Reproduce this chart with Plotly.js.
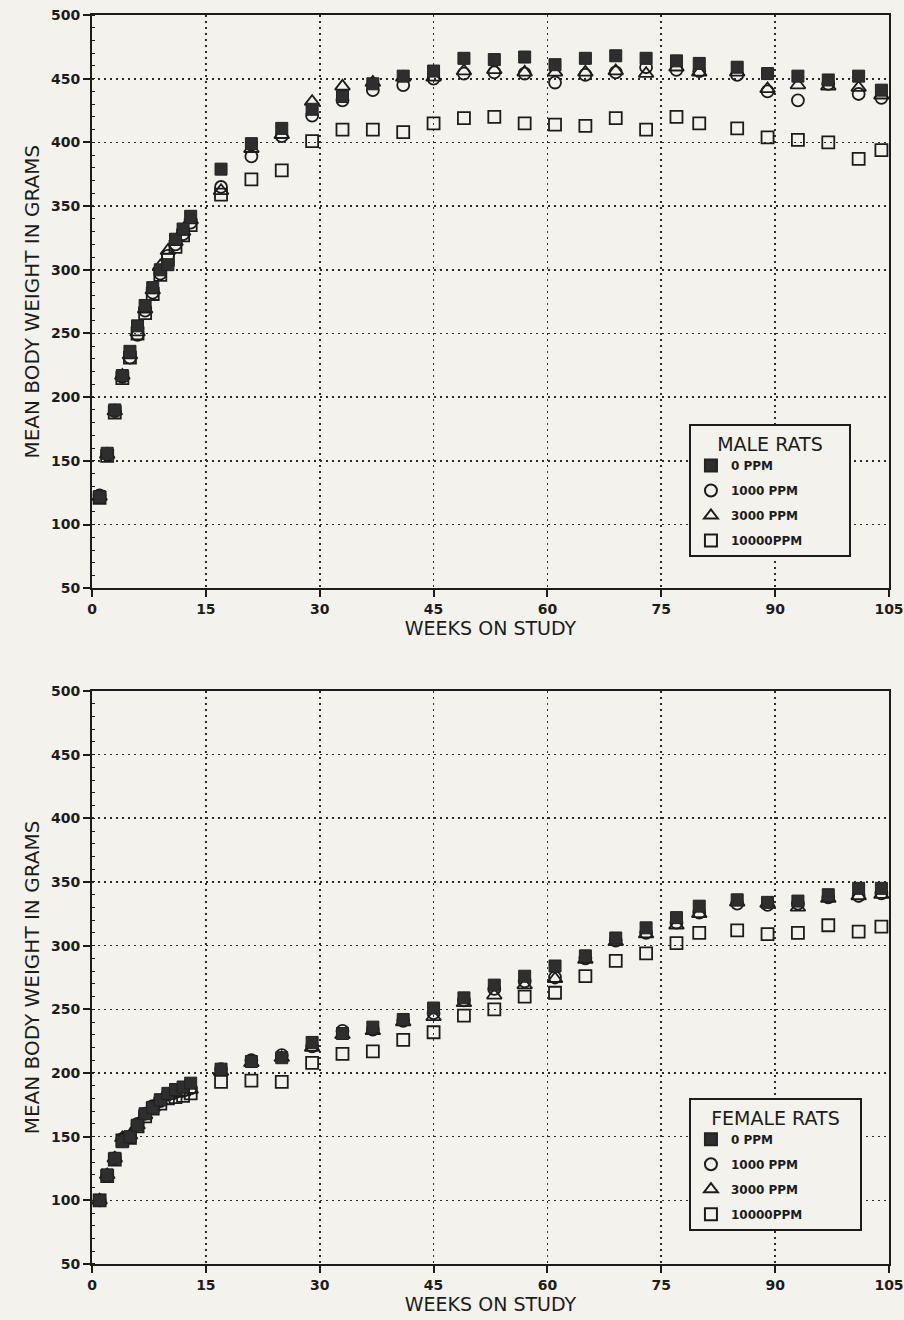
<!DOCTYPE html>
<html>
<head>
<meta charset="utf-8">
<script src="https://cdn.plot.ly/plotly-3.0.1.min.js"></script>
<style>
  html, body { margin: 0; padding: 0; background: #f4f2ec; }
  #chart { width: 904px; height: 1320px; }
</style>
</head>
<body>
<div id="chart"></div>
<script>
// Weeks on study (shared by both panels)
const weeks = [1,2,3,4,5,6,7,8,9,10,11,12,13,17,21,25,29,33,37,41,45,49,53,57,61,65,69,73,77,80,85,89,93,97,101,104];

// Male rats, mean body weight (g)
const male0     = [122,156,190,217,236,256,272,286,300,304,324,332,342,379,399,411,426,436,446,452,456,466,465,467,461,466,468,466,464,462,459,454,452,449,452,441];
const male1000  = [123,155,189,216,231,249,268,282,297,311,320,328,337,365,389,405,421,433,441,445,450,454,455,454,447,453,455,459,457,456,453,440,433,446,438,435];
const male3000  = [122,155,189,217,233,251,269,284,303,315,322,330,339,362,395,406,432,444,447,451,451,456,457,455,455,455,456,454,459,455,455,442,445,444,443,437];
const male10000 = [121,154,188,215,231,250,266,281,296,308,318,327,335,359,371,378,401,410,410,408,415,419,420,415,414,413,419,410,420,415,411,404,402,400,387,394];

// Female rats, mean body weight (g)
const female0     = [100,120,133,146,150,159,168,173,179,184,187,189,192,203,209,212,224,231,236,242,251,259,269,276,284,292,306,314,322,331,336,334,335,340,345,345];
const female1000  = [100,119,133,148,150,160,168,174,178,183,185,186,188,203,210,214,221,233,234,241,247,257,266,272,275,290,304,310,318,326,333,332,333,338,339,341];
const female3000  = [100,120,133,149,151,159,167,173,178,182,184,185,187,201,208,212,220,230,233,240,244,255,261,269,274,289,303,309,316,325,334,333,330,337,339,340];
const female10000 = [100,119,132,147,149,158,166,172,176,180,181,182,184,193,194,193,208,215,217,226,232,245,250,260,263,276,288,294,302,310,312,309,310,316,311,315];

const groupNames = ['0 PPM', '1000 PPM', '3000 PPM', '10000PPM'];
const yTicks = [50,100,150,200,250,300,350,400,450,500];
const xTicks = [0,15,30,45,60,75,90,105];

const INK = '#1c1c1c';
const BG = '#f4f2ec';
const FONT = 'DejaVu Sans';
const NB = '\u00a0';

function series(y, idx, xa, ya, legendId) {
  const styles = [
    {symbol: 'square', color: '#2e2e2e', line: {color: '#222', width: 1}, size: 12},
    {symbol: 'circle-open', color: INK, line: {color: INK, width: 1.8}, size: 12},
    {symbol: 'triangle-up-open', color: INK, line: {color: INK, width: 1.8}, size: 13},
    {symbol: 'square-open', color: INK, line: {color: INK, width: 1.8}, size: 12}
  ];
  const s = styles[idx];
  return {
    type: 'scatter', mode: 'markers',
    x: weeks, y: y,
    xaxis: xa, yaxis: ya,
    name: groupNames[idx],
    legend: legendId,
    legendgroup: legendId + idx,
    legendrank: idx + 1,
    cliponaxis: false,
    marker: {symbol: s.symbol, size: s.size, color: s.color, line: s.line}
  };
}

const maleSets = [male0, male1000, male3000, male10000];
const femaleSets = [female0, female1000, female3000, female10000];
const data = [];
// draw open markers first, filled last (on top)
[3,2,1,0].forEach(i => data.push(series(maleSets[i], i, 'x', 'y', 'legend')));
[3,2,1,0].forEach(i => data.push(series(femaleSets[i], i, 'x2', 'y2', 'legend2')));

function xAxis(anchor) {
  return {
    anchor: anchor, domain: [0, 1], range: [0, 105],
    tickmode: 'array', tickvals: xTicks, ticktext: xTicks.map(String),
    showgrid: true, gridcolor: '#2a2a2a', gridwidth: 1.6, griddash: '2px,4px',
    zeroline: false, showline: true, mirror: true, linecolor: INK, linewidth: 2,
    ticks: 'outside', ticklen: 7, tickwidth: 2, tickcolor: INK,
    tickfont: {family: FONT, size: 14, color: INK, weight: 'bold'},
    title: {text: 'WEEKS ON STUDY', font: {family: FONT, size: 19, color: INK}, standoff: 4}
  };
}
function yAxis(anchor, domain) {
  return {
    anchor: anchor, domain: domain, range: [50, 500],
    tickmode: 'array', tickvals: yTicks, ticktext: yTicks.map(String),
    showgrid: true, gridcolor: '#2a2a2a', gridwidth: 1.6, griddash: '2px,4px',
    zeroline: false, showline: true, mirror: true, linecolor: INK, linewidth: 2,
    ticks: 'outside', ticklen: 7, tickwidth: 2, tickcolor: INK,
    minor: {ticks: 'inside', ticklen: 3, tickwidth: 1, tickcolor: INK, dtick: 10, showgrid: false},
    tickfont: {family: FONT, size: 14, color: INK, weight: 'bold'},
    title: {text: 'MEAN BODY WEIGHT IN GRAMS', font: {family: FONT, size: 20, color: INK}, standoff: 6}
  };
}

function legendBox(y, title) {
  return {
    x: 0.749, y: y, xanchor: 'left', yanchor: 'top',
    bgcolor: BG, bordercolor: INK, borderwidth: 2,
    traceorder: 'grouped', tracegroupgap: 6,
    itemsizing: 'constant',
    font: {family: FONT, size: 12, color: INK, weight: 'bold'},
    title: {text: title, side: 'top center', font: {family: FONT, size: 19, color: INK, weight: 'normal'}}
  };
}

const layout = {
  width: 904, height: 1320,
  margin: {l: 92, r: 15, t: 15, b: 56},
  paper_bgcolor: BG, plot_bgcolor: BG,
  font: {family: FONT, color: INK},
  showlegend: true,
  xaxis: xAxis('y'),
  yaxis: yAxis('x', [0.541, 1]),
  xaxis2: xAxis('y2'),
  yaxis2: yAxis('x2', [0, 0.4588]),
  legend: legendBox(0.6723, NB.repeat(4) + 'MALE RATS' + NB.repeat(4)),
  legend2: legendBox(0.1329, NB.repeat(3) + 'FEMALE RATS' + NB.repeat(3))
};

Plotly.newPlot('chart', data, layout, {displayModeBar: false, staticPlot: true});
</script>
</body>
</html>
